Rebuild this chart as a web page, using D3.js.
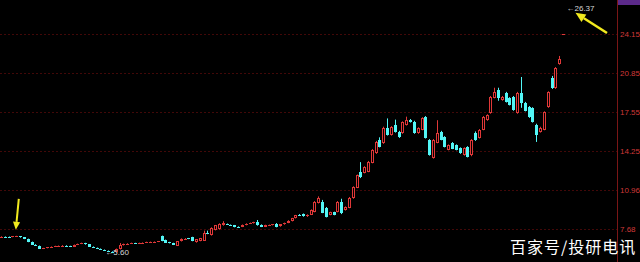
<!DOCTYPE html>
<html>
<head>
<meta charset="utf-8">
<script src="https://cdn.jsdelivr.net/npm/d3@7"></script>
<style>
  body { margin: 0; background: #000; overflow: hidden; }
  svg { display: block; }
</style>
</head>
<body>
<div id="chart"></div>
<script>
// daily candles, oldest first
var open = [
  6.95,6.99,6.97,6.96,7.00,7.02,6.92,6.80,6.55,6.32,
  6.22,5.96,6.02,6.08,6.14,6.19,6.20,6.24,6.20,6.13,
  6.30,6.38,6.45,6.33,6.14,6.05,5.97,5.88,5.80,5.72,
  5.68,5.92,6.26,6.36,6.40,6.45,6.42,6.44,6.48,6.52,
  6.54,6.55,7.02,6.70,6.52,6.45,6.22,6.60,6.78,6.84,
  6.95,6.50,6.62,6.65,7.30,7.10,7.55,7.60,7.95,8.05,
  7.98,7.95,7.82,7.82,7.98,8.12,8.12,8.25,8.00,7.82,
  7.95,7.96,8.10,7.85,8.02,8.15,8.30,8.55,8.84,8.90,
  8.70,8.85,9.10,9.87,9.96,9.45,8.85,9.05,9.10,9.96,
  9.26,9.43,10.27,11.15,12.47,12.40,12.50,13.24,14.09,15.18,
  14.90,16.20,15.60,16.45,15.85,15.77,16.45,16.85,16.70,15.77,
  16.03,17.13,15.18,13.66,14.93,15.85,15.43,14.34,14.93,14.76,
  14.50,13.92,14.59,13.88,15.78,15.35,16.03,16.87,17.47,18.74,
  19.41,18.57,19.16,18.74,18.82,17.47,19.16,18.31,17.97,17.89,
  16.45,15.86,16.03,17.97,20.43,19.58,21.60,24.13
];
var high = [
  7.02,7.01,7.00,7.04,7.06,7.04,6.94,6.82,6.57,6.35,
  6.24,6.04,6.10,6.16,6.22,6.24,6.27,6.26,6.22,6.32,
  6.40,6.48,6.47,6.35,6.16,6.07,5.99,5.90,5.82,5.75,
  5.98,6.45,6.40,6.43,6.48,6.47,6.48,6.50,6.56,6.57,
  6.58,6.60,7.08,6.74,6.55,6.47,6.62,6.84,6.86,6.88,
  6.98,6.78,6.88,7.50,7.50,7.78,7.98,8.12,8.30,8.10,
  8.02,7.98,7.86,8.02,8.12,8.18,8.25,8.40,8.03,8.00,
  8.01,8.05,8.14,8.04,8.18,8.38,8.58,8.83,8.90,8.95,
  8.88,9.30,10.00,10.40,10.10,9.50,9.10,9.10,10.00,10.20,
  9.55,10.35,11.25,12.25,13.30,12.95,13.40,14.40,15.10,15.40,
  16.30,17.00,16.35,16.90,15.95,16.75,17.15,16.95,16.80,16.25,
  17.10,17.20,15.25,15.25,16.85,15.95,15.50,14.80,15.00,14.80,
  14.55,14.55,14.65,15.25,15.90,16.10,17.20,17.35,18.90,19.60,
  19.60,18.90,19.25,18.80,18.90,19.25,20.51,18.40,18.05,17.95,
  16.55,16.30,17.60,19.30,20.60,21.35,22.29,24.13
];
var low = [
  6.92,6.94,6.93,6.94,6.98,6.90,6.78,6.52,6.30,6.20,
  5.95,5.94,6.00,6.06,6.12,6.17,6.18,6.18,6.11,6.11,
  6.28,6.36,6.31,6.12,6.03,5.95,5.86,5.78,5.70,5.60,
  5.66,5.90,6.24,6.34,6.38,6.38,6.40,6.42,6.46,6.50,
  6.52,6.53,6.60,6.46,6.42,6.28,6.20,6.58,6.74,6.78,
  6.60,6.48,6.60,6.63,7.20,7.08,7.52,7.58,7.92,7.98,
  7.92,7.78,7.75,7.80,7.95,8.08,8.10,7.92,7.80,7.80,
  7.93,7.94,7.78,7.83,8.00,8.13,8.28,8.53,8.78,8.68,
  8.66,8.82,9.05,9.80,8.98,8.62,8.80,8.80,9.05,8.90,
  9.20,9.40,10.20,11.10,11.95,12.35,12.45,13.20,14.00,14.55,
  14.85,15.55,15.55,15.80,15.35,15.70,16.40,16.65,15.70,15.70,
  16.00,15.30,13.85,13.60,14.90,15.15,14.55,14.30,14.40,14.30,
  14.00,13.85,13.70,13.80,15.10,15.30,16.00,16.80,17.40,18.70,
  18.50,18.50,18.35,18.10,17.65,17.40,17.90,17.60,17.05,16.65,
  15.01,15.80,16.00,17.90,19.50,19.50,21.55,24.13
];
var close = [
  6.99,6.97,6.96,7.01,7.03,6.92,6.80,6.55,6.32,6.22,
  5.98,6.02,6.08,6.14,6.20,6.22,6.24,6.20,6.13,6.30,
  6.38,6.45,6.33,6.14,6.05,5.97,5.88,5.80,5.72,5.68,
  5.95,6.25,6.38,6.40,6.45,6.42,6.46,6.48,6.54,6.55,
  6.56,6.58,6.62,6.48,6.45,6.30,6.60,6.80,6.82,6.80,
  6.62,6.75,6.85,7.28,7.25,7.75,7.95,8.10,8.15,8.02,
  7.95,7.80,7.78,8.00,8.10,8.15,8.22,7.95,7.82,7.98,
  7.98,8.02,7.80,8.02,8.15,8.35,8.55,8.80,8.82,8.70,
  8.85,9.25,9.95,10.28,9.03,8.68,9.05,8.85,9.96,9.00,
  9.51,10.27,11.20,12.20,12.05,12.90,13.35,14.34,15.01,14.59,
  16.20,15.60,16.28,15.85,15.43,16.70,16.87,16.70,15.77,16.20,
  17.05,15.35,13.88,15.18,15.78,15.18,14.59,14.76,14.42,14.34,
  14.08,14.50,13.74,15.18,15.18,16.03,17.13,17.30,18.82,19.24,
  18.74,18.82,18.40,18.14,17.72,19.16,18.31,17.65,17.13,16.70,
  15.60,16.20,17.55,19.24,19.58,21.28,22.04,24.13
];

// price axis ticks and the max / min markers
var tickValues = [7.68, 10.96, 14.25, 17.55, 20.85, 24.15];
var maxPrice = 26.37;
var minPrice = 5.60;
var minIndex = 29;   // candle carrying the 5.60 low
var arrowIndex = 4;  // candle the left arrow points at

var areaWidth = 640, areaHeight = 262, plotRight = 617;
var upColor = "#e03838", downColor = "#52f6f6";

var svg = d3.select("#chart").append("svg")
  .attr("width", areaWidth)
  .attr("height", areaHeight);

svg.append("rect").attr("width", areaWidth).attr("height", areaHeight).attr("fill", "#000");

var y = d3.scaleLinear().domain([7.68, 24.15]).range([228.5, 34]);
var x = d3.scaleLinear().domain([0, close.length - 1]).range([1.5, 563.5]);

// faint dashed grid lines
svg.append("g")
  .selectAll("line")
  .data(tickValues)
  .enter()
  .append("line")
  .attr("x1", 0)
  .attr("x2", plotRight)
  .attr("y1", function (d) { return Math.round(y(d)) + 0.5; })
  .attr("y2", function (d) { return Math.round(y(d)) + 0.5; })
  .attr("stroke", "#420808")
  .attr("stroke-dasharray", "2,2");

// right axis
svg.append("line")
  .attr("x1", plotRight + 0.5).attr("x2", plotRight + 0.5)
  .attr("y1", 0).attr("y2", areaHeight)
  .attr("stroke", "#7a1616");

var axis = svg.append("g")
  .attr("transform", "translate(" + plotRight + ",0)")
  .call(d3.axisRight(y).tickValues(tickValues).tickSize(0).tickPadding(3).tickFormat(d3.format(".2f")));
axis.select(".domain").remove();
axis.selectAll("text")
  .style("fill", "#d03838")
  .style("font-size", "8px")
  .style("font-family", "Liberation Sans, Arial, sans-serif");

// purple corner box
svg.append("rect")
  .attr("x", plotRight + 1).attr("y", 0)
  .attr("width", areaWidth - plotRight - 1).attr("height", 5)
  .attr("fill", "#5c2a8a");

// candles
var candles = close.map(function (c, i) {
  return { i: i, o: open[i], h: high[i], l: low[i], c: c, up: c >= open[i] };
});

var g = svg.append("g");

g.selectAll("line.wick")
  .data(candles)
  .enter()
  .append("line")
  .attr("class", "wick")
  .attr("x1", function (d) { return Math.round(x(d.i) - 1.5) + 1.5; })
  .attr("x2", function (d) { return Math.round(x(d.i) - 1.5) + 1.5; })
  .attr("y1", function (d) { return y(d.h); })
  .attr("y2", function (d) { return y(d.l); })
  .attr("stroke", function (d) { return d.up ? upColor : downColor; });

g.selectAll("rect.body")
  .data(candles)
  .enter()
  .append("rect")
  .attr("class", "body")
  .each(function (d) {
    var left = Math.round(x(d.i) - 1.5);
    var yTop = Math.round(y(Math.max(d.o, d.c)));
    var yBot = Math.round(y(Math.min(d.o, d.c)));
    var r = d3.select(this);
    if (d.up && yBot - yTop > 1) {
      r.attr("x", left + 0.5).attr("y", yTop + 0.5)
        .attr("width", 2).attr("height", yBot - yTop - 1)
        .attr("fill", "#000").attr("stroke", upColor);
    } else {
      r.attr("x", left).attr("y", yTop)
        .attr("width", 3).attr("height", Math.max(1, yBot - yTop))
        .attr("fill", d.up ? upColor : downColor);
    }
  });

// max / min markers
var labelFont = "Liberation Sans, Arial, sans-serif";
svg.append("text")
  .attr("x", x(close.length - 1) + 3)
  .attr("y", y(maxPrice))
  .attr("dy", "0.35em")
  .text("\u2190" + maxPrice.toFixed(2))
  .style("fill", "#d8d8d8")
  .style("font-size", "8px")
  .style("font-family", labelFont);

svg.append("text")
  .attr("x", x(minIndex) - 7)
  .attr("y", y(minPrice))
  .attr("dy", "0.2em")
  .text("\u2190" + minPrice.toFixed(2))
  .style("fill", "#d8d8d8")
  .style("font-size", "8px")
  .style("font-family", labelFont);

// yellow arrows
var arrowColor = "#f2ea1e";
function arrow(x1, y1, x2, y2, w, head) {
  var ang = Math.atan2(y2 - y1, x2 - x1);
  var bx = x2 - Math.cos(ang) * head, by = y2 - Math.sin(ang) * head;
  svg.append("line")
    .attr("x1", x1).attr("y1", y1).attr("x2", bx).attr("y2", by)
    .attr("stroke", arrowColor).attr("stroke-width", w);
  var px = -Math.sin(ang) * head * 0.45, py = Math.cos(ang) * head * 0.45;
  svg.append("polygon")
    .attr("points", [[x2, y2], [bx + px, by + py], [bx - px, by - py]].map(function (p) { return p.join(","); }).join(" "))
    .attr("fill", arrowColor);
}
var ax = x(arrowIndex) - 1;
arrow(ax + 3, y(high[arrowIndex]) - 37, ax, y(high[arrowIndex]) - 6, 2, 8);
arrow(plotRight - 10, y(24.15) - 1, x(close.length - 1) + 12, y(maxPrice) + 5, 2.5, 10);

// watermark
svg.append("text")
  .attr("x", 510)
  .attr("y", 253)
  .text("百家号/投研电讯")
  .style("fill", "#ffffff")
  .style("font-size", "16px")
  .style("letter-spacing", "1px")
  .style("font-family", "Noto Sans CJK SC, sans-serif");
</script>
</body>
</html>
